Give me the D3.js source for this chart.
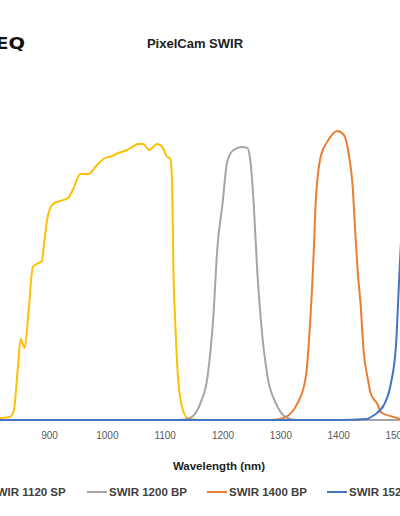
<!DOCTYPE html>
<html><head><meta charset="utf-8">
<script src="https://cdn.jsdelivr.net/npm/d3@7"></script>
<style>html,body{margin:0;padding:0;background:#fff;overflow:hidden}</style>
</head><body>
<svg id="c" width="400" height="516"></svg>
<script>
const title = "PixelCam SWIR";
const logoText = "PIXELTEQ";
const xTicks = [800, 900, 1000, 1100, 1200, 1300, 1400, 1500, 1600];
const xLabel = "Wavelength (nm)";
const seriesNames = ["SWIR 1120 SP", "SWIR 1200 BP", "SWIR 1400 BP", "SWIR 1520 BP"];
const seriesColors = ["#FFC000", "#A5A5A5", "#ED7D31", "#4472C4"];

const sp1120_wl = [800, 815, 832, 839, 846, 851, 858, 865, 872, 879, 888, 891, 898, 907, 919, 933, 942, 954, 968, 983, 994, 1009, 1020, 1035, 1044, 1054, 1063, 1073, 1087, 1096, 1103, 1110, 1113, 1115, 1118, 1124, 1132, 1141, 1160, 1600];
const sp1120_val = [0.7, 0.7, 1, 3, 17, 27, 24, 37, 51, 52, 53, 58, 68, 72, 73, 74, 77, 82, 82, 85, 87, 88, 89, 90, 91, 92, 92, 90, 92, 91, 88, 87, 78, 51, 34, 12, 3, 0.5, 0, 0];

const bp1200_wl = [800, 1125, 1144, 1162, 1174, 1184, 1191, 1200, 1208, 1219, 1234, 1243, 1248, 1254, 1260, 1266, 1278, 1292, 1312, 1330, 1600];
const bp1200_val = [0, 0, 0.7, 5.7, 14.3, 34, 57, 72, 86, 90, 91, 90.7, 86.7, 72, 50, 34, 14.3, 5.7, 0.7, 0, 0];

const bp1400_wl = [800, 1285, 1306, 1330, 1344, 1352, 1358, 1361, 1370, 1382, 1399, 1410, 1418, 1425, 1430, 1434, 1439, 1444, 1451, 1456, 1468, 1474, 1496, 1510, 1600];
const bp1400_val = [0, 0, 0.7, 5.7, 14.3, 34, 57, 72, 88, 93, 96.3, 95, 89, 78, 61, 49, 38, 23, 14, 9, 5.2, 2.6, 1, 0.3, 0];

const bp1520_wl = [800, 1404, 1448, 1461, 1479, 1491, 1500, 1505, 1508, 1515, 1525];
const bp1520_val = [0, 0, 0.3, 1.5, 5, 12, 25, 45, 57, 78, 92];

const svg = d3.select("#c");
const x = d3.scaleLinear().domain([900, 1500]).range([49, 396]);
const y = d3.scaleLinear().domain([0, 100]).range([420, 120]);

// logo & title
svg.append("text").attr("transform", "translate(25,48.5) scale(1.3,1)").attr("text-anchor", "end")
  .attr("font-family", "DejaVu Sans, sans-serif").attr("font-weight", "bold")
  .attr("font-size", 15).attr("fill", "#111").text(logoText);
svg.append("text").attr("x", 195).attr("y", 47.5).attr("text-anchor", "middle")
  .attr("font-family", "Liberation Sans, Arial, sans-serif").attr("font-weight", "bold")
  .attr("font-size", 13).attr("fill", "#222").text(title);

// axis
const axis = d3.axisBottom(x).tickValues(xTicks).tickSize(0).tickPadding(12).tickFormat(d3.format("d"));
const ag = svg.append("g").attr("transform", "translate(0,420)").call(axis);
ag.select(".domain").attr("stroke", "#D9D9D9").attr("stroke-width", 1).attr("d", "M-20,0H420");
ag.selectAll("text").attr("font-family", "Liberation Sans, Arial, sans-serif").attr("font-size", 10).attr("fill", "#595959");

svg.append("text").attr("x", 219).attr("y", 469.5).attr("text-anchor", "middle")
  .attr("font-family", "Liberation Sans, Arial, sans-serif").attr("font-weight", "bold")
  .attr("font-size", 11.5).attr("fill", "#222").text(xLabel);

// series
const allSeries = [
  [sp1120_wl, sp1120_val],
  [bp1200_wl, bp1200_val],
  [bp1400_wl, bp1400_val],
  [bp1520_wl, bp1520_val]
];
const line = d3.line().x(d => x(d[0])).y(d => y(d[1])).curve(d3.curveMonotoneX);
allSeries.forEach((s, i) => {
  const pts = s[0].map((w, j) => [w, s[1][j]]);
  svg.append("path").datum(pts).attr("d", line).attr("fill", "none")
    .attr("stroke", seriesColors[i]).attr("stroke-width", 2).attr("stroke-linejoin", "round");
});

// legend
const lg = svg.append("g").attr("transform", "translate(0,492)");
seriesNames.forEach((n, i) => {
  const x0 = -33 + i * 120;
  lg.append("line").attr("x1", x0).attr("x2", x0 + 20).attr("y1", 0).attr("y2", 0)
    .attr("stroke", seriesColors[i]).attr("stroke-width", 2);
  lg.append("text").attr("x", x0 + 22).attr("y", 4.2)
    .attr("font-family", "Liberation Sans, Arial, sans-serif").attr("font-weight", "bold")
    .attr("font-size", 11.5).attr("fill", "#404040").text(n);
});
</script>
</body></html>
